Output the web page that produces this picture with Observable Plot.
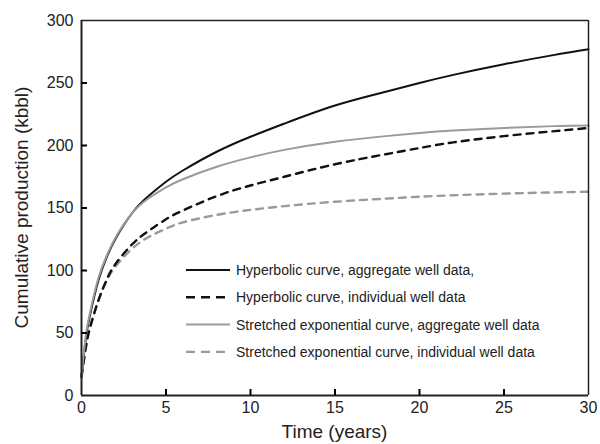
<!DOCTYPE html>
<html><head><meta charset="utf-8">
<script src="https://cdn.jsdelivr.net/npm/d3@7"></script>
<script src="https://cdn.jsdelivr.net/npm/@observablehq/plot@0.6"></script>
<style>body{margin:0;background:#fff}</style>
</head><body><div id="chart"></div>
<script>
const years = [0, 0.25, 0.5, 1, 1.5, 2, 3, 4, 5, 6, 8, 10, 12, 15, 18, 20, 22, 25, 28, 30];
const hypAggregate = [15, 45, 64, 92, 111, 125, 146, 160, 171, 180, 195, 207, 217.5, 232, 243, 250, 256.5, 265, 272.5, 277];
const hypIndividual = [15, 38, 54, 76, 93, 105, 121, 132, 141, 148, 159.5, 168, 175, 185, 193, 198, 202.5, 207.5, 211.5, 214];
const strAggregate = [15, 47, 66, 94, 112, 126, 146, 158, 166.5, 173, 183, 190.5, 196.5, 203, 207.5, 210, 212, 214, 215.5, 216];
const strIndividual = [15, 38, 54, 76, 92, 103, 117.5, 127, 133.5, 138.5, 144.5, 148.5, 151.5, 155, 157.5, 159, 160.2, 161.5, 162.5, 163];
const seriesNames = [
  "Hyperbolic curve, aggregate well data,",
  "Hyperbolic curve, individual well data",
  "Stretched exponential curve, aggregate well data",
  "Stretched exponential curve, individual well data"
];
const xTicks = [0, 5, 10, 15, 20, 25, 30];
const yTicks = [0, 50, 100, 150, 200, 250, 300];
const xLabel = "Time (years)";
const yLabel = "Cumulative production (kbbl)";

const seriesValues = [hypAggregate, hypIndividual, strAggregate, strIndividual];
const styles = [
  {stroke: "#111", dash: null, width: 2},
  {stroke: "#111", dash: "7,6", width: 2.4},
  {stroke: "#9a9a9a", dash: null, width: 2},
  {stroke: "#9a9a9a", dash: "7,6", width: 2.4}
];
const rows = seriesNames.map((s, k) => years.map((t, i) => ({series: s, t, v: seriesValues[k][i]})));

const W = 600, H = 444, mL = 81, mR = 12, mT = 20, mB = 49;
const font = "'Liberation Sans', Arial, Helvetica, sans-serif";
const drawOrder = [3, 1, 0, 2];
const tickLen = 6;

const chart = Plot.plot({
  width: W, height: H,
  marginLeft: mL, marginRight: mR, marginTop: mT, marginBottom: mB,
  style: {fontFamily: font, background: "#fff", color: "#222"},
  x: {domain: [xTicks[0], xTicks[xTicks.length - 1]]},
  y: {domain: [yTicks[0], yTicks[yTicks.length - 1]]},
  marks: [
    ...drawOrder.map(k => Plot.line(rows[k], {
      x: "t", y: "v", curve: "natural",
      stroke: styles[k].stroke, strokeWidth: styles[k].width,
      strokeDasharray: styles[k].dash
    })),
    Plot.ruleX([xTicks[xTicks.length - 1]], {stroke: "#222", strokeWidth: 1.5}),
    Plot.ruleY([yTicks[yTicks.length - 1]], {stroke: "#222", strokeWidth: 1.5}),
    Plot.ruleX([xTicks[0]], {stroke: "#222", strokeWidth: 2}),
    Plot.ruleY([yTicks[0]], {stroke: "#222", strokeWidth: 2}),
    Plot.tickX(xTicks.slice(1, -1), {x: d => d, stroke: "#000", strokeWidth: 2, insetTop: H - mT - mB - tickLen}),
    Plot.tickY(yTicks.slice(1, -1), {y: d => d, stroke: "#000", strokeWidth: 2, insetRight: W - mL - mR - tickLen}),
    Plot.axisX(xTicks, {tickSize: 0, tickPadding: 6, fontSize: 16, label: null}),
    Plot.axisY(yTicks, {tickSize: 0, tickPadding: 8, fontSize: 16, label: null})
  ]
});

const svg = d3.select(chart);
svg.append("text")
  .attr("x", mL + (W - mL - mR) / 2).attr("y", 438)
  .attr("text-anchor", "middle").attr("font-size", 19).attr("fill", "#222")
  .attr("font-family", font).text(xLabel);
svg.append("text")
  .attr("transform", `translate(28,${mT + (H - mT - mB) / 2}) rotate(-90)`)
  .attr("text-anchor", "middle").attr("font-size", 19).attr("fill", "#222")
  .attr("font-family", font).text(yLabel);

const leg = svg.append("g");
const legY0 = 270, legDy = 27.3;
seriesNames.forEach((name, k) => {
  const y = legY0 + k * legDy;
  leg.append("line").attr("x1", 186).attr("x2", 230).attr("y1", y).attr("y2", y)
    .attr("stroke", styles[k].stroke).attr("stroke-width", styles[k].width)
    .attr("stroke-dasharray", styles[k].dash ? "9,6" : null);
  leg.append("text").attr("x", 236).attr("y", y).attr("dy", "0.35em").attr("text-anchor", "start")
    .attr("font-size", 14).attr("fill", "#222").attr("font-family", font).text(name);
});

document.getElementById("chart").appendChild(chart);
</script>
</body></html>
